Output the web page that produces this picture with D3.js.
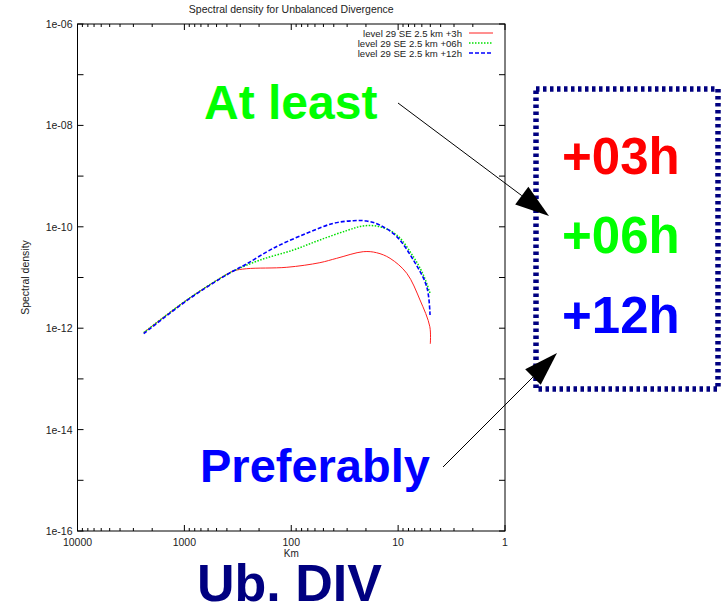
<!DOCTYPE html>
<html>
<head>
<meta charset="utf-8">
<script src="https://cdn.jsdelivr.net/npm/d3@7"></script>
<style>
  html, body { margin: 0; padding: 0; background: #fff; }
  svg { display: block; font-family: "Liberation Sans", Arial, Helvetica, sans-serif; }
</style>
</head>
<body>
<svg id="chart" width="722" height="608"></svg>
<script>
// Wavelength (km) and spectral density of unbalanced divergence, level 29
const km03 = [2400, 950, 465, 349, 262, 110, 54, 37.6, 21.2, 15.9, 11.9, 8.3, 6.24, 5.05, 5.0];
const sd03 = [8.2e-13, 3.6e-12, 9.6e-12, 1.34e-11, 1.49e-11, 1.59e-11, 1.96e-11, 2.39e-11, 3.23e-11, 3.08e-11, 2.39e-11, 1.21e-11, 3.6e-12, 1.07e-12, 4.9e-13];

const km06 = [2400, 950, 465, 349, 196, 95.8, 54, 30.3, 21.2, 14.8, 10.3, 7.2, 5.8, 5.03];
const sd06 = [8.2e-13, 3.6e-12, 9.6e-12, 1.34e-11, 2.21e-11, 3.48e-11, 5.5e-11, 8.4e-11, 1.04e-10, 1.0e-10, 6.9e-11, 2.57e-11, 1.12e-11, 4.9e-12];

const km12 = [2400, 950, 465, 349, 262, 147.5, 71.8, 40.4, 26.3, 19.7, 14.8, 10.3, 7.2, 5.4, 5.03];
const sd12 = [7.8e-13, 3.5e-12, 9.4e-12, 1.34e-11, 1.85e-11, 3.77e-11, 7.45e-11, 1.17e-10, 1.32e-10, 1.30e-10, 1.08e-10, 6.4e-11, 2.21e-11, 6.6e-12, 1.82e-12];

const seriesNames = ["level 29 SE 2.5 km +3h", "level 29 SE 2.5 km +06h", "level 29 SE 2.5 km +12h"];
const xTickValues = [10000, 1000, 100, 10, 1];
const xTickLabels = ["10000", "1000", "100", "10", "1"];
const yTickValues = [1e-6, 1e-8, 1e-10, 1e-12, 1e-14, 1e-16];
const yTickLabels = ["1e-06", "1e-08", "1e-10", "1e-12", "1e-14", "1e-16"];

const svg = d3.select("#chart");
const L = 77.5, R = 505, T = 24, B = 531;

const x = d3.scaleLog().domain([10000, 1]).range([L, R]);
const y = d3.scaleLog().domain([1e-16, 1e-6]).range([B, T]);

// Frame
svg.append("rect").attr("x", L).attr("y", T).attr("width", R - L).attr("height", B - T)
  .attr("fill", "none").attr("stroke", "#000").attr("stroke-width", 1);

// Ticks on all four sides, pointing inward
const xMinor = [];
for (let e = 0; e < 4; e++) for (let m = 2; m <= 9; m++) xMinor.push(m * Math.pow(10, e));
const tickG = svg.append("g").attr("stroke", "#000").attr("stroke-width", 1);
xTickValues.forEach(v => {
  tickG.append("line").attr("x1", x(v)).attr("x2", x(v)).attr("y1", B).attr("y2", B - 6);
  tickG.append("line").attr("x1", x(v)).attr("x2", x(v)).attr("y1", T).attr("y2", T + 6);
});
xMinor.forEach(v => {
  tickG.append("line").attr("x1", x(v)).attr("x2", x(v)).attr("y1", B).attr("y2", B - 3);
  tickG.append("line").attr("x1", x(v)).attr("x2", x(v)).attr("y1", T).attr("y2", T + 3);
});
const yMajor = d3.range(-16, -5).map(e => Math.pow(10, e));
yMajor.forEach(v => {
  tickG.append("line").attr("x1", L).attr("x2", L + 6).attr("y1", y(v)).attr("y2", y(v));
  tickG.append("line").attr("x1", R).attr("x2", R - 6).attr("y1", y(v)).attr("y2", y(v));
});

// Tick labels
const labG = svg.append("g").attr("font-size", 10.5).attr("fill", "#222");
xTickValues.forEach((v, i) => {
  labG.append("text").attr("x", x(v)).attr("y", B + 15).attr("text-anchor", "middle").text(xTickLabels[i]);
});
yTickValues.forEach((v, i) => {
  labG.append("text").attr("x", L - 5).attr("y", y(v) + 4).attr("text-anchor", "end").text(yTickLabels[i]);
});

// Titles
svg.append("text").attr("x", (L + R) / 2).attr("y", 13).attr("text-anchor", "middle")
  .attr("font-size", 10.5).attr("fill", "#222").text("Spectral density for Unbalanced Divergence");
svg.append("text").attr("x", (L + R) / 2).attr("y", 557).attr("text-anchor", "middle")
  .attr("font-size", 10).attr("fill", "#222").text("Km");
svg.append("text").attr("transform", `translate(29,${(T + B) / 2}) rotate(-90)`)
  .attr("text-anchor", "middle").attr("font-size", 10.5).attr("fill", "#222").text("Spectral density");

// Curves
const series = [
  { km: km03, sd: sd03, color: "#ff2020", dash: null, width: 1 },
  { km: km06, sd: sd06, color: "#00e000", dash: "1.5,1.5", width: 1.5 },
  { km: km12, sd: sd12, color: "#0000ff", dash: "4,2", width: 1.6 }
];
const line = d3.line().x(d => x(d[0])).y(d => y(d[1])).curve(d3.curveCatmullRom.alpha(0.5));
series.forEach(s => {
  svg.append("path").datum(s.km.map((k, i) => [k, s.sd[i]]))
    .attr("d", line).attr("fill", "none").attr("stroke", s.color)
    .attr("stroke-width", s.width).attr("stroke-dasharray", s.dash);
});

// Legend
series.forEach((s, i) => {
  const ly = 33 + i * 10;
  svg.append("text").attr("x", 462).attr("y", ly + 3.5).attr("text-anchor", "end")
    .attr("font-size", 9.6).attr("fill", "#222").text(seriesNames[i]);
  svg.append("line").attr("x1", 469).attr("x2", 493).attr("y1", ly).attr("y2", ly)
    .attr("stroke", s.color).attr("stroke-width", s.width).attr("stroke-dasharray", s.dash);
});

// Annotations
const bold = sel => sel.attr("font-weight", "bold").attr("font-family", "'Liberation Sans', Arial, sans-serif");
bold(svg.append("text").attr("x", 204).attr("y", 119).attr("font-size", 48).attr("fill", "#00ff00").text("At least"));
bold(svg.append("text").attr("x", 200).attr("y", 482).attr("font-size", 47).attr("fill", "#0000ff").text("Preferably"));
bold(svg.append("text").attr("x", 197).attr("y", 601).attr("font-size", 52).attr("fill", "#000080").text("Ub. DIV"));

// Dotted box with forecast hours
svg.append("rect").attr("x", 536).attr("y", 89).attr("width", 182).attr("height", 300)
  .attr("fill", "none").attr("stroke", "#000080").attr("stroke-width", 5.5)
  .attr("stroke-dasharray", "3.5,3.5");
const hours = [["+03h", "#ff0000", 174], ["+06h", "#00ff00", 253], ["+12h", "#0000ff", 333]];
hours.forEach(h => {
  bold(svg.append("text").attr("x", 562).attr("y", h[2]).attr("font-size", 51).attr("fill", h[1]).text(h[0]));
});

// Arrows
function arrow(x1, y1, x2, y2) {
  const ang = Math.atan2(y2 - y1, x2 - x1);
  const len = 34, hw = 11;
  const bx = x2 - len * Math.cos(ang), by = y2 - len * Math.sin(ang);
  svg.append("line").attr("x1", x1).attr("y1", y1).attr("x2", bx).attr("y2", by)
    .attr("stroke", "#000").attr("stroke-width", 1);
  const p = [[x2, y2],
    [bx + hw * Math.sin(ang), by - hw * Math.cos(ang)],
    [bx - hw * Math.sin(ang), by + hw * Math.cos(ang)]];
  svg.append("path").attr("d", "M" + p.map(q => q.join(",")).join("L") + "Z").attr("fill", "#000");
}
arrow(398, 103, 549, 216);
arrow(443, 467, 557, 353);
</script>
</body>
</html>
